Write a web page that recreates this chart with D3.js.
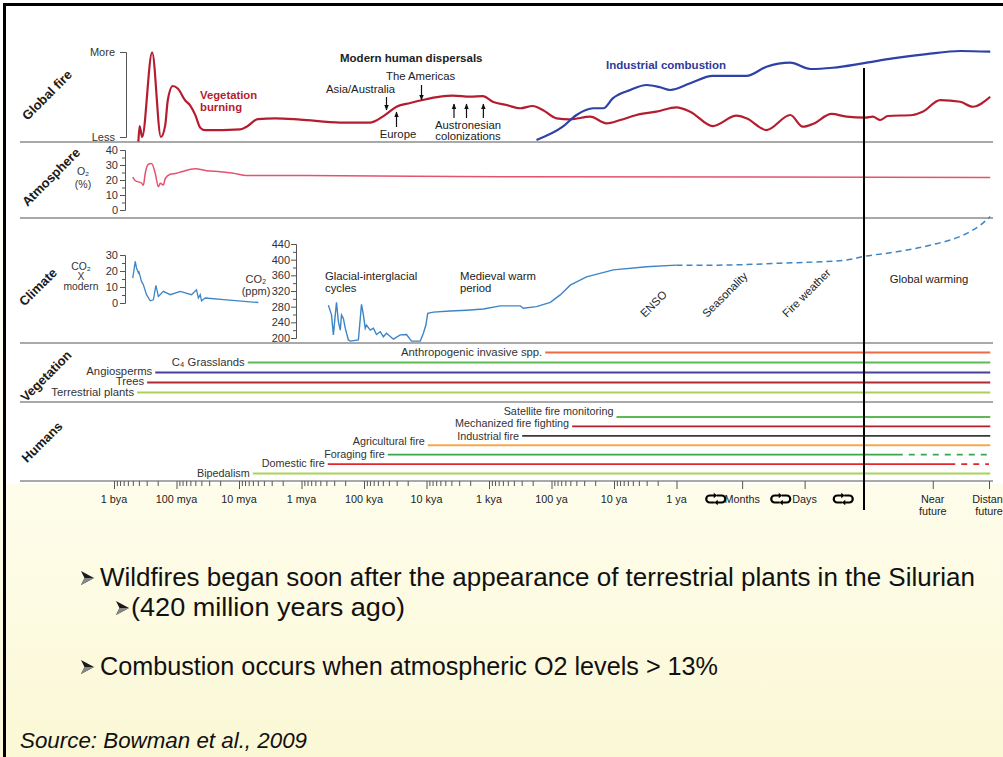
<!DOCTYPE html>
<html>
<head>
<meta charset="utf-8">
<script src="https://cdn.jsdelivr.net/npm/d3@7"></script>
<style>
  html, body { margin: 0; padding: 0; background: #fff; }
  svg { display: block; font-family: "Liberation Sans", Arial, Helvetica, sans-serif; }
</style>
</head>
<body>
<div id="chart"></div>
<script>
// Time runs along log10(years ago); values below 0 are months, days, present and the future
const axisTicks = [9, 8, 7, 6, 5, 4, 3, 2, 1, 0, -1.05, -2.05, -4.1, -5];
const axisLabels = ["1 bya", "100 mya", "10 mya", "1 mya", "100 kya", "10 kya", "1 kya",
  "100 ya", "10 ya", "1 ya", "Months", "Days", "Near\nfuture", "Distant\nfuture"];
const scaleBreaks = [-0.58, -1.62, -2.62];
const presentTime = -3;

// Global fire (relative, 0 = less, 100 = more)
const vegetationBurning = [[8.61,-5.5],[8.59,12.9],[8.55,0],[8.39,99.6],[8.25,0],[8.18,14],
  [8.14,43],[8.06,60],[7.98,57],[7.86,43],[7.78,37],[7.70,26],[7.62,11],[7.54,8],[6.98,9],
  [6.86,13],[6.70,21],[6.42,22],[6.02,20.5],[5.38,17],[4.90,17],[4.66,26],[4.48,35.6],
  [4.26,40],[4.06,43.5],[3.78,47.4],[3.58,48.6],[3.30,47.4],[3.10,48.2],[2.94,41.5],
  [2.72,37.6],[2.50,33.8],[2.30,36.5],[2.14,31.8],[1.92,22],[1.70,20.8],[1.38,23.9],
  [1.12,16.1],[0.90,20],[0.64,25.9],[0.32,29.8],[0,34.9],[-0.22,29.8],[-0.58,12.9],
  [-0.96,25.1],[-1.12,22],[-1.44,8.2],[-1.82,25.9],[-2.02,12.1],[-2.18,15.3],[-2.48,27.1],
  [-2.72,23.9],[-3.02,22.7],[-3.14,23.9],[-3.26,20],[-3.38,24.7],[-3.78,25.9],[-3.94,29.8],
  [-4.22,43.5],[-4.54,41.5],[-4.74,35.6],[-5.02,47.4]];
const industrialCombustion = [[2.24,-3.5],[1.82,12.1],[1.60,25.9],[1.33,33.8],[1.17,33.8],
  [1.02,45.5],[0.74,55.3],[0.48,61.2],[0.26,58.5],[0.10,55.3],[-0.22,63.2],[-0.58,71.8],
  [-1.12,71.8],[-1.44,82.7],[-1.82,87.4],[-2.14,80],[-2.50,81.5],[-2.98,86.7],[-3.46,92.6],
  [-4.00,97.6],[-4.54,101.2],[-5.02,100.4]];

// Atmospheric O2 (%)
const oxygen = [[8.70,22],[8.66,19.5],[8.56,18],[8.53,16.5],[8.50,24.5],[8.45,30.5],[8.40,31],
  [8.34,24.5],[8.29,15.5],[8.26,17.8],[8.21,16.7],[8.18,21],[8.10,23.8],[8.00,24.5],
  [7.92,25.5],[7.70,27.5],[7.52,26.2],[7.30,25.5],[7.09,24.5],[6.88,23],[6.02,23],
  [2.82,22.2],[-5.02,21.7]];

// CO2 as multiple of modern level (deep time)
const co2Multiple = [[8.70,15.6],[8.66,26],[8.64,21.9],[8.61,18.8],[8.60,19.4],[8.56,13.5],
  [8.53,11.4],[8.48,5.2],[8.42,1.4],[8.37,2],[8.33,11],[8.29,4.1],[8.21,7.3],[8.10,5.2],
  [7.94,7.3],[7.76,5.2],[7.68,8.3],[7.65,3.1],[7.62,5.2],[7.60,1.4],[7.54,3.1],[7.20,2],
  [6.69,0.3]];

// CO2 (ppm), measured then projected
const co2Ppm = [[5.57,284],[5.52,259],[5.49,208],[5.46,259],[5.44,291],[5.41,242],[5.38,220],
  [5.36,259],[5.33,250],[5.30,225],[5.25,195],[5.22,192],[5.09,195],[5.04,286],[5.01,259],
  [4.98,225],[4.96,233],[4.90,220],[4.85,225],[4.80,209],[4.74,216],[4.69,203],[4.64,212],
  [4.53,197],[4.42,208],[4.32,209],[4.24,192],[4.10,192],[4.05,212],[4.01,233],[3.98,263],
  [3.89,266],[3.62,269],[3.36,271],[3.09,274],[2.82,282],[2.50,282],[2.45,276],[2.24,280],
  [2.02,291],[1.86,310],[1.70,335],[1.44,356],[1.01,374],[0.48,382],[0,386]];
const co2Projected = [[0,386],[-0.59,386],[-1.66,391],[-2.72,399],[-2.99,408],[-3.52,420],
  [-4.06,437],[-4.59,463],[-4.86,488],[-5.02,510]];

// Vegetation and human fire uses: label, onset, colour
const vegetationLabels = ["Anthropogenic invasive spp.", "C\u2084 Grasslands", "Angiosperms", "Trees", "Terrestrial plants"];
const vegetationStart = [2.10, 6.86, 8.34, 8.47, 8.63];
const vegetationColors = ["#ee6a42", "#5cb954", "#4a3f9a", "#b02a31", "#a9d25a"];

const humanLabels = ["Satellite fire monitoring", "Mechanized fire fighting", "Industrial fire",
  "Agricultural fire", "Foraging fire", "Domestic fire", "Bipedalism"];
const humanStart = [0.96, 1.67, 2.47, 3.98, 4.62, 5.58, 6.78];
const humanDashFrom = [null, null, null, null, -3.62, -4.46, null];
const humanColors = ["#5cb954", "#b3202c", "#3a3a3a", "#f5a84c", "#3aa64b", "#e2262b", "#a9d25a"];

const bullets = [
  "Wildfires began soon after the appearance of terrestrial plants in the Silurian",
  "(420 million years ago)",
  "Combustion occurs when atmospheric O2 levels > 13%"
];

const W = 1003, H = 757;
const FS = 11.3; // chart text size
const svg = d3.select("#chart").append("svg").attr("width", W).attr("height", H);

// Background
const defs = svg.append("defs");
const grad = defs.append("linearGradient").attr("id", "bg").attr("x1", 0).attr("y1", 0).attr("x2", 0).attr("y2", 1);
grad.append("stop").attr("offset", "0%").attr("stop-color", "#ffffff");
grad.append("stop").attr("offset", "62%").attr("stop-color", "#fefdec");
grad.append("stop").attr("offset", "100%").attr("stop-color", "#fbf8d6");
defs.append("marker").attr("id", "arrow").attr("viewBox", "0 0 10 10")
  .attr("refX", 9).attr("refY", 5).attr("markerWidth", 5).attr("markerHeight", 5)
  .attr("orient", "auto").append("path").attr("d", "M0,1L10,5L0,9Z").attr("fill", "#111");

svg.append("rect").attr("width", W).attr("height", H).attr("fill", "url(#bg)");
svg.append("rect").attr("x", 6).attr("y", 6).attr("width", W - 6).attr("height", 478).attr("fill", "#ffffff");
svg.append("rect").attr("x", 3).attr("y", 3).attr("width", W - 3).attr("height", 3).attr("fill", "#000");
svg.append("rect").attr("x", 3).attr("y", 3).attr("width", 3).attr("height", H - 3).attr("fill", "#000");

// Scales
const x = d3.scaleLinear().domain([9, -5]).range([114, 989]);
const yFire = d3.scaleLinear().domain([0, 100]).range([137, 52]);
const yO2 = d3.scaleLinear().domain([0, 40]).range([210, 150]);
const yCO2x = d3.scaleLinear().domain([0, 30]).range([303, 255]);
const yCO2 = d3.scaleLinear().domain([200, 440]).range([338, 244]);
const yVeg = d3.scalePoint().domain(vegetationLabels).range([352.5, 392.5]);
const yHum = d3.scalePoint().domain(humanLabels).range([417, 473.5]);

// Panel separators
const separators = [142, 218, 343, 402, 481];
svg.append("g").selectAll("line").data(separators).join("line")
  .attr("x1", 20).attr("x2", 993).attr("y1", d => d).attr("y2", d => d)
  .attr("stroke", "#8c8c8c").attr("stroke-width", 1.5);

// Panel titles
const titles = [["Global fire", 47, 95], ["Atmosphere", 51, 177], ["Climate", 38, 287],
  ["Vegetation", 46, 376], ["Humans", 42, 442]];
svg.append("g").selectAll("text").data(titles).join("text")
  .attr("transform", d => `translate(${d[1]},${d[2]}) rotate(-45)`)
  .attr("text-anchor", "middle").attr("dy", "0.35em")
  .attr("font-size", 13).attr("font-weight", "bold").attr("fill", "#1a1a1a")
  .text(d => d[0]);

function styleAxis(g) {
  g.selectAll("path, line").attr("stroke", "#555").attr("stroke-width", 1);
  g.selectAll("text").attr("font-size", 11).attr("fill", "#333")
    .attr("font-family", "'Liberation Sans', Arial, sans-serif");
}

// Global fire axis
svg.append("g").attr("transform", "translate(126,0)")
  .call(d3.axisLeft(yFire).tickValues([0, 100]).tickSize(6).tickPadding(5)
    .tickFormat(d => d === 0 ? "Less" : "More"))
  .call(styleAxis);

// O2 axis
svg.append("g").attr("transform", "translate(125,0)")
  .call(d3.axisLeft(yO2).tickValues(d3.range(5, 40, 10)).tickSize(3).tickFormat(""))
  .call(g => g.select(".domain").remove()).call(styleAxis);
svg.append("g").attr("transform", "translate(125,0)")
  .call(d3.axisLeft(yO2).tickValues(d3.range(0, 41, 10)).tickSize(5).tickPadding(2))
  .call(styleAxis);

// CO2 multiple axis
svg.append("g").attr("transform", "translate(125,0)")
  .call(d3.axisLeft(yCO2x).tickValues([5, 15, 25]).tickSize(3).tickFormat(""))
  .call(g => g.select(".domain").remove()).call(styleAxis);
svg.append("g").attr("transform", "translate(125,0)")
  .call(d3.axisLeft(yCO2x).tickValues(d3.range(0, 31, 10)).tickSize(5).tickPadding(2))
  .call(styleAxis);

// CO2 ppm axis
svg.append("g").attr("transform", "translate(296,0)")
  .call(d3.axisLeft(yCO2).tickValues(d3.range(220, 440, 40)).tickSize(3).tickFormat(""))
  .call(g => g.select(".domain").remove()).call(styleAxis);
svg.append("g").attr("transform", "translate(296,0)")
  .call(d3.axisLeft(yCO2).tickValues(d3.range(200, 441, 40)).tickSize(5).tickPadding(1))
  .call(styleAxis);

// Axis titles
function stackText(lines, cx, y0, step, size) {
  const t = svg.append("text").attr("text-anchor", "middle").attr("font-size", size).attr("fill", "#333");
  lines.forEach((l, i) => t.append("tspan").attr("x", cx).attr("y", y0 + i * step).text(l));
}
stackText(["O\u2082", "(%)"], 83, 175, 13, 10.5);
stackText(["CO\u2082", "X", "modern"], 81, 270, 9.8, 10.3);
stackText(["CO\u2082", "(ppm)"], 256, 283, 11.5, 11);

// Curves
const line = (yScale) => d3.line().x(d => x(d[0])).y(d => yScale(d[1])).curve(d3.curveMonotoneX);

svg.append("path").datum(vegetationBurning).attr("d", line(yFire))
  .attr("fill", "none").attr("stroke", "#b41d30").attr("stroke-width", 2.2);
svg.append("path").datum(industrialCombustion).attr("d", line(yFire))
  .attr("fill", "none").attr("stroke", "#2e41a6").attr("stroke-width", 2.2);
svg.append("path").datum(oxygen).attr("d", line(yO2))
  .attr("fill", "none").attr("stroke", "#e4526e").attr("stroke-width", 1.5);
svg.append("path").datum(co2Multiple).attr("d", d3.line().x(d => x(d[0])).y(d => yCO2x(d[1])))
  .attr("fill", "none").attr("stroke", "#3d85c6").attr("stroke-width", 1.3);
svg.append("path").datum(co2Ppm).attr("d", d3.line().x(d => x(d[0])).y(d => yCO2(d[1])))
  .attr("fill", "none").attr("stroke", "#3d85c6").attr("stroke-width", 1.4);
svg.append("path").datum(co2Projected).attr("d", line(yCO2))
  .attr("fill", "none").attr("stroke", "#3d85c6").attr("stroke-width", 1.5)
  .attr("stroke-dasharray", "6,4");

// Global fire annotations
const ann = svg.append("g").attr("font-size", FS).attr("fill", "#222");
ann.append("text").attr("x", 200).attr("y", 99).attr("font-weight", "bold")
  .attr("fill", "#b41d30").text("Vegetation");
ann.append("text").attr("x", 200).attr("y", 111).attr("font-weight", "bold")
  .attr("fill", "#b41d30").text("burning");
ann.append("text").attr("x", 340).attr("y", 62).attr("font-size", 11.5).attr("font-weight", "bold")
  .text("Modern human dispersals");
ann.append("text").attr("x", 606).attr("y", 69).attr("font-size", 11.5).attr("font-weight", "bold")
  .attr("fill", "#2e3a9a").text("Industrial combustion");
ann.append("text").attr("x", 386).attr("y", 80).text("The Americas");
ann.append("text").attr("x", 326).attr("y", 93).text("Asia/Australia");
ann.append("text").attr("x", 398).attr("y", 138).attr("text-anchor", "middle").text("Europe");
ann.append("text").attr("x", 468).attr("y", 129).attr("text-anchor", "middle").text("Austronesian");
ann.append("text").attr("x", 468).attr("y", 139.5).attr("text-anchor", "middle").text("colonizations");

const arrows = [[4.64, 97, 110], [4.08, 85, 100], [4.48, 127, 112], [3.56, 118, 104], [3.36, 118, 104], [3.09, 118, 104]];
svg.append("g").selectAll("line").data(arrows).join("line")
  .attr("x1", d => x(d[0])).attr("x2", d => x(d[0])).attr("y1", d => d[1]).attr("y2", d => d[2])
  .attr("stroke", "#111").attr("stroke-width", 1.2).attr("marker-end", "url(#arrow)");

// Climate annotations
ann.append("text").attr("x", 325).attr("y", 280).text("Glacial-interglacial");
ann.append("text").attr("x", 325).attr("y", 292).text("cycles");
ann.append("text").attr("x", 460).attr("y", 280).text("Medieval warm");
ann.append("text").attr("x", 460).attr("y", 292).text("period");
ann.append("text").attr("x", 929).attr("y", 283).attr("text-anchor", "middle").text("Global warming");
[["ENSO", 645, 318], ["Seasonality", 707, 318], ["Fire weather", 787, 318]].forEach(d => {
  ann.append("text").attr("transform", `translate(${d[1]},${d[2]}) rotate(-45)`).text(d[0]);
});

// Vegetation rows
const vegLabelDy = [3.5, 3.5, 2, 2, 3];
const veg = svg.append("g").selectAll("g").data(vegetationLabels).join("g");
veg.append("line")
  .attr("x1", (d, i) => x(vegetationStart[i])).attr("x2", x(-5.02))
  .attr("y1", d => yVeg(d)).attr("y2", d => yVeg(d))
  .attr("stroke", (d, i) => vegetationColors[i]).attr("stroke-width", 1.8);
veg.append("text")
  .attr("x", (d, i) => x(vegetationStart[i]) - 3).attr("y", (d, i) => yVeg(d) + vegLabelDy[i])
  .attr("text-anchor", "end").attr("font-size", FS).attr("fill", "#333").text(d => d);

// Human rows (labels sit a little above some of their lines, as in the source figure)
const humLabelDy = [-2, 1, 4, 0, 3, 3, 3];
const hum = svg.append("g").selectAll("g").data(humanLabels).join("g");
hum.append("line")
  .attr("x1", (d, i) => x(humanStart[i]))
  .attr("x2", (d, i) => x(humanDashFrom[i] === null ? -5.02 : humanDashFrom[i]))
  .attr("y1", d => yHum(d)).attr("y2", d => yHum(d))
  .attr("stroke", (d, i) => humanColors[i]).attr("stroke-width", 1.8);
hum.filter((d, i) => humanDashFrom[i] !== null).append("line")
  .attr("x1", d => x(humanDashFrom[humanLabels.indexOf(d)]) + 6).attr("x2", x(-5))
  .attr("y1", d => yHum(d)).attr("y2", d => yHum(d))
  .attr("stroke", d => humanColors[humanLabels.indexOf(d)]).attr("stroke-width", 1.8)
  .attr("stroke-dasharray", "6,6");
hum.append("text")
  .attr("x", (d, i) => x(humanStart[i]) - 3).attr("y", (d, i) => yHum(d) + humLabelDy[i])
  .attr("text-anchor", "end").attr("font-size", 10.8).attr("fill", "#333").text(d => d);

// Present-day line
svg.append("line").attr("x1", x(presentTime)).attr("x2", x(presentTime))
  .attr("y1", 68).attr("y2", 510).attr("stroke", "#000").attr("stroke-width", 2);

// Time axis
const minorTicks = [];
d3.range(9, 0, -1).forEach(L => d3.range(2, 10).forEach(k => minorTicks.push(L - 1 + Math.log10(k))));
svg.append("g").attr("transform", "translate(0,481)")
  .call(d3.axisBottom(x).tickValues(minorTicks).tickSize(5).tickFormat(""))
  .call(g => g.select(".domain").remove()).call(styleAxis);
svg.append("g").attr("transform", "translate(0,481)")
  .call(d3.axisBottom(x).tickValues(axisTicks).tickSize(8).tickFormat(""))
  .call(g => g.select(".domain").remove()).call(styleAxis);

const axisText = svg.append("g").attr("font-size", 10.8).attr("fill", "#222").attr("text-anchor", "middle");
axisTicks.forEach((t, i) => {
  const lines = axisLabels[i].split("\n");
  const txt = axisText.append("text");
  lines.forEach((l, j) => txt.append("tspan").attr("x", x(t)).attr("y", 503 + j * 12).text(l));
});

// Scale-break symbols between 1 ya, months, days and present
const breakG = svg.append("g").attr("fill", "none").attr("stroke", "#000").attr("stroke-width", 2.2);
scaleBreaks.forEach(t => {
  const cx = x(t) + 3, cy = 499;
  breakG.append("path").attr("d", `M${cx - 1},${cy - 3.5}H${cx - 6}A3.5,3.5 0 0 0 ${cx - 6},${cy + 3.5}H${cx - 1}`);
  breakG.append("path").attr("d", `M${cx + 1},${cy + 3.5}H${cx + 6}A3.5,3.5 0 0 0 ${cx + 6},${cy - 3.5}H${cx + 1}`);
  breakG.append("path").attr("stroke", "none").attr("fill", "#000")
    .attr("d", `M${cx - 2},${cy - 6.3}L${cx + 1.5},${cy - 3.5}L${cx - 2},${cy - 0.7}Z`);
  breakG.append("path").attr("stroke", "none").attr("fill", "#000")
    .attr("d", `M${cx + 2},${cy + 0.7}L${cx - 1.5},${cy + 3.5}L${cx + 2},${cy + 6.3}Z`);
});

// Slide text
const slide = svg.append("g").attr("fill", "#111").attr("font-size", 25);
const bulletRows = [[81, 100, 586, 875], [116, 131, 616, 274], [81, 100, 675, 618]];
bulletRows.forEach((r, i) => {
  const bx = r[0], by = r[2] - 8;
  slide.append("path").attr("fill", "#1a1a1a")
    .attr("d", `M${bx},${by - 7}L${bx + 13},${by}L${bx},${by + 7}L${bx + 3.5},${by}Z`);
  slide.append("path").attr("fill", "#888")
    .attr("d", `M${bx + 3.5},${by}L${bx + 13},${by}L${bx},${by + 7}Z`);
  slide.append("text").attr("x", r[1]).attr("y", r[2]).attr("textLength", r[3])
    .attr("lengthAdjust", "spacingAndGlyphs").text(bullets[i]);
});
slide.append("text").attr("x", 20).attr("y", 748).attr("font-size", 22).attr("font-style", "italic")
  .attr("textLength", 287).attr("lengthAdjust", "spacingAndGlyphs").text("Source: Bowman et al., 2009");
</script>
</body>
</html>
